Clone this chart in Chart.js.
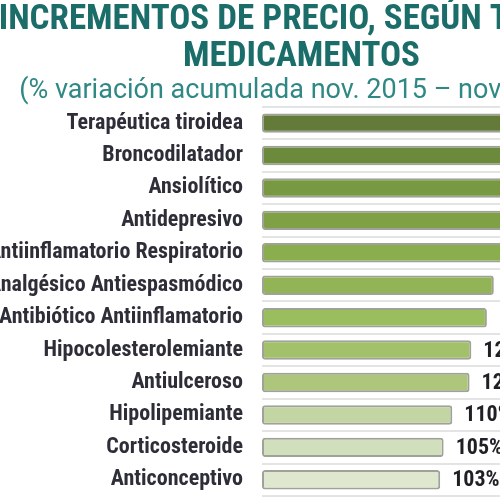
<!DOCTYPE html>
<html>
<head>
<meta charset="utf-8">
<script src="https://cdn.jsdelivr.net/npm/chart.js@4.4.1/dist/chart.umd.min.js"></script>
<style>
    html, body { margin: 0; padding: 0; background: #fff; overflow: hidden; width: 500px; height: 500px; }
    #wrap { position: absolute; left: -5px; top: 0; width: 620px; height: 500px; }
</style>
</head>
<body>
<div id="wrap"><canvas id="js-price-chart" width="620" height="500"></canvas></div>
<script>
// Chart data
const categories = [
    'Terapéutica tiroidea',
    'Broncodilatador',
    'Ansiolítico',
    'Antidepresivo',
    'Antiinflamatorio Respiratorio',
    'Analgésico Antiespasmódico',
    'Antibiótico Antiinflamatorio',
    'Hipocolesterolemiante',
    'Antiulceroso',
    'Hipolipemiante',
    'Corticosteroide',
    'Anticonceptivo',
];
const variation = [175, 165, 155, 148, 141, 134, 130, 121, 120, 110, 105, 103];
const barColors = [
    '#637a38', '#6c8a3c', '#789842', '#80a046', '#8aad4e', '#92b456',
    '#9abd5e', '#a3c16a', '#adc67c', '#c3d5a2', '#d1dfbc', '#dfe8cf',
];

const labelFont = "'Roboto Condensed', 'DejaVu Sans Condensed', sans-serif";

// Draw the "103%" style labels next to each bar
const valueLabels = {
    id: 'valueLabels',
    afterDatasetsDraw(chart) {
        const ctx = chart.ctx;
        const meta = chart.getDatasetMeta(0);
        ctx.save();
        ctx.font = "bold 22px " + labelFont;
        ctx.fillStyle = '#1f1f25';
        ctx.textAlign = 'left';
        ctx.textBaseline = 'middle';
        meta.data.forEach((bar, i) => {
            ctx.fillText(variation[i] + '%', bar.x + 12, bar.y + 1);
        });
        ctx.restore();
    }
};

const priceChartConfig = {
    type: 'bar',
    data: {
        labels: categories,
        datasets: [{
            data: variation,
            backgroundColor: barColors,
            borderColor: 'rgba(95, 100, 85, 0.6)',
            borderWidth: 2,
            borderRadius: 3,
            borderSkipped: false,
            barPercentage: 0.6,
            categoryPercentage: 1,
        }]
    },
    options: {
        indexAxis: 'y',
        responsive: false,
        animation: false,
        layout: {
            padding: { right: 7, bottom: 4 }
        },
        scales: {
            x: {
                display: false,
                min: 0,
                max: 200,
            },
            y: {
                grid: {
                    color: '#e4e4e4',
                    lineWidth: 2,
                    drawTicks: false,
                },
                border: { display: false },
                ticks: {
                    padding: 19,
                    color: '#2e2e38',
                    font: { family: labelFont, size: 22, weight: 'bold' },
                },
                afterFit: (scale) => {
                    scale.width = 267;
                    scale.paddingTop = 0;
                    scale.paddingBottom = 0;
                }
            }
        },
        plugins: {
            legend: { display: false },
            tooltip: { enabled: false },
            title: {
                display: true,
                text: ['INCREMENTOS DE PRECIO, SEGÚN TIPO DE', 'MEDICAMENTOS'],
                color: '#1b6d69',
                font: { family: labelFont, size: 35, weight: 'bold', lineHeight: 1.06 },
                padding: { top: 2, bottom: 0 },
            },
            subtitle: {
                display: true,
                text: '(% variación acumulada nov. 2015 – nov. 2017)',
                color: '#2f8884',
                font: { family: 'Roboto, sans-serif', size: 27, lineHeight: 1.1 },
                padding: { top: 0, bottom: 1 },
            }
        }
    },
    plugins: [valueLabels],
};

new Chart(document.querySelector('#js-price-chart'), priceChartConfig);
</script>
</body>
</html>
